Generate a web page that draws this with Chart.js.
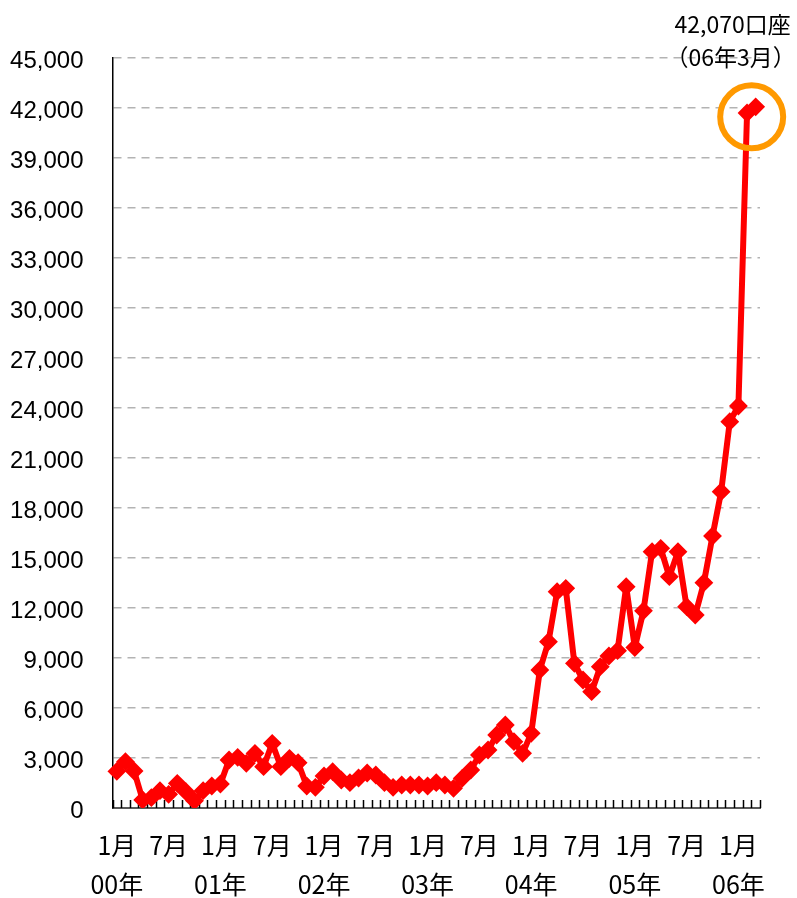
<!DOCTYPE html>
<html lang="ja">
<head>
<meta charset="utf-8">
<title>口座数の推移</title>
<script src="https://cdn.jsdelivr.net/npm/chart.js@4.4.1/dist/chart.umd.min.js"></script>
<style>
  html, body { margin: 0; padding: 0; background: #fff; }
  #wrap { width: 797px; height: 898px; }
</style>
</head>
<body>
<div id="wrap"><canvas id="kouzaChart" width="797" height="898"></canvas></div>
<script>
// 月末口座数（2000年1月〜2006年3月）
const years = ['00', '01', '02', '03', '04', '05', '06'];
const monthNames = ['1月', '2月', '3月', '4月', '5月', '6月', '7月', '8月', '9月', '10月', '11月', '12月'];
const labeledMonths = ['1月', '7月'];

const accounts = [
  2200, 2780, 2220, 480, 620, 1040, 820, 1480, 980, 440, 1040, 1320,          // 00年
  1440, 2880, 3040, 2680, 3280, 2480, 3880, 2480, 2980, 2720, 1320, 1240,    // 01年
  1920, 2180, 1680, 1520, 1800, 2100, 1980, 1520, 1240, 1380, 1380, 1380,    // 02年
  1320, 1520, 1380, 1180, 1780, 2280, 3180, 3480, 4380, 4980, 3980, 3280,    // 03年
  4480, 8280, 9980, 12980, 13180, 8680, 7680, 6980, 8480, 9120, 9440, 13280, // 04年
  9630, 11830, 15380, 15580, 13880, 15380, 12080, 11580, 13520, 16320, 18980, 23180, // 05年
  24120, 41700, 42070                                                        // 06年
];

const yTicks = { min: 0, max: 45000, step: 3000 };

// カテゴリ（年・月の組）
const categories = accounts.map((v, i) => ({
  year: years[Math.floor(i / 12)],
  month: monthNames[i % 12]
}));

const lastIndex = accounts.length - 1;
const lastValue = accounts[lastIndex];
const lastCat = categories[lastIndex];

const jpFont = '"Noto Sans CJK JP", "Noto Sans", sans-serif';

// x軸の内向き目盛り
const innerTicks = {
  id: 'innerTicks',
  beforeDatasetsDraw(chart) {
    const xs = chart.scales.x;
    const ctx = chart.ctx;
    const n = xs.ticks.length;
    const step = (xs.right - xs.left) / n;
    ctx.save();
    ctx.strokeStyle = '#000';
    ctx.lineWidth = 1.5;
    ctx.beginPath();
    for (let i = 0; i <= n; i++) {
      const x = Math.round(xs.left + i * step) + 0.5;
      ctx.moveTo(x, xs.top - 8);
      ctx.lineTo(x, xs.top);
    }
    ctx.stroke();
    ctx.restore();
  }
};

// 最新値の強調（丸と注記）
const latestMark = {
  id: 'latestMark',
  afterDatasetsDraw(chart) {
    const pt = chart.getDatasetMeta(0).data[lastIndex];
    const ctx = chart.ctx;
    ctx.save();
    ctx.strokeStyle = '#FF9900';
    ctx.lineWidth = 6;
    ctx.beginPath();
    ctx.arc(pt.x - 4, pt.y + 10, 31.5, 0, Math.PI * 2);
    ctx.stroke();

    ctx.fillStyle = '#000';
    ctx.font = '23px ' + jpFont;
    ctx.textAlign = 'center';
    ctx.textBaseline = 'alphabetic';
    ctx.fillText(lastValue.toLocaleString('en-US') + '口座', pt.x - 23, pt.y - 74);
    ctx.fillText('（' + lastCat.year + '年' + lastCat.month + '）', pt.x - 25, pt.y - 41);
    ctx.restore();
  }
};

const ctx = document.getElementById('kouzaChart').getContext('2d');
const kouzaChart = new Chart(ctx, {
  type: 'line',
  data: {
    labels: categories.map(c => c.year + '年' + c.month),
    datasets: [{
      label: '口座数',
      data: accounts,
      borderColor: '#FF0000',
      backgroundColor: '#FF0000',
      borderWidth: 6,
      borderJoinStyle: 'round',
      pointStyle: 'rectRot',
      pointRadius: 8,
      pointBorderWidth: 2,
      pointBorderColor: '#FF0000',
      pointBackgroundColor: '#FF0000',
      tension: 0
    }]
  },
  options: {
    responsive: false,
    animation: false,
    layout: { padding: { top: 58, right: 37, left: 0, bottom: 0 } },
    plugins: {
      legend: { display: false },
      tooltip: { enabled: false }
    },
    scales: {
      x: {
        type: 'category',
        offset: true,
        grid: { display: false },
        border: { display: true, color: '#595959', width: 2 },
        afterFit: s => { s.height = 90; },
        ticks: {
          autoSkip: false,
          maxRotation: 0,
          minRotation: 0,
          padding: 10,
          color: '#000',
          font: { family: jpFont, size: 25, lineHeight: 1.56 },
          callback: (v, i) => {
            const c = categories[i];
            if (!labeledMonths.includes(c.month)) return '';
            return c.month === labeledMonths[0] ? [c.month, c.year + '年'] : [c.month, ''];
          }
        }
      },
      y: {
        min: yTicks.min,
        max: yTicks.max,
        afterFit: s => { s.width = 112.5; },
        grid: { color: '#b3b3b3', lineWidth: 1.5, drawTicks: false },
        border: { display: true, color: '#000', width: 1.5, dash: [8, 6] },
        ticks: {
          stepSize: yTicks.step,
          padding: 29,
          labelOffset: 3,
          color: '#000',
          font: { family: '"Liberation Sans", Arial, sans-serif', size: 24 },
          callback: v => v.toLocaleString('en-US')
        }
      }
    }
  },
  plugins: [innerTicks, latestMark]
});
</script>
</body>
</html>
